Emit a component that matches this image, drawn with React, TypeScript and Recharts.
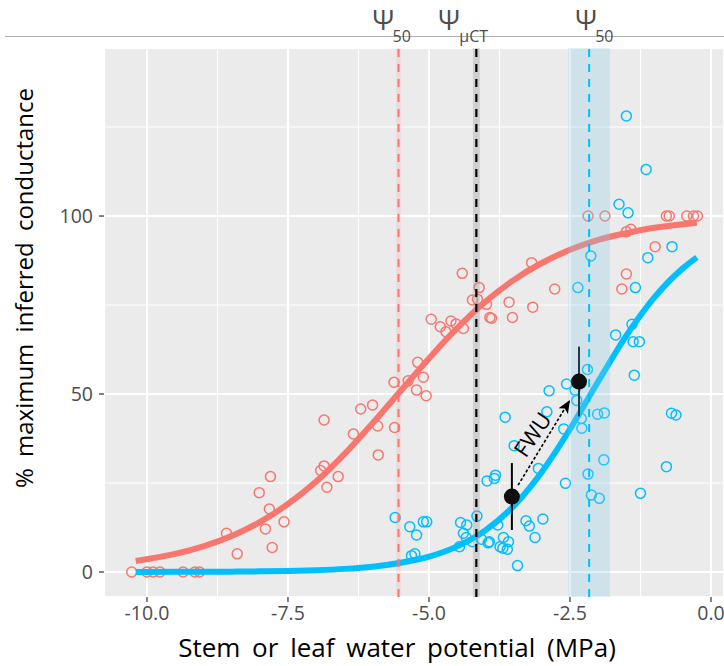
import React from 'react';
import {
  ComposedChart,
  Line,
  Scatter,
  XAxis,
  YAxis,
  CartesianGrid,
  ReferenceLine,
  ReferenceArea,
  ErrorBar,
} from 'recharts';

const RED = '#F8766D';
const BLUE = '#00BFFF';
const FONT = '"Open Sans", "Noto Sans", sans-serif';

// ---- data ----
const redPoints: number[][] = [
  [-10.27, 0], [-10.0, 0], [-9.89, 0], [-9.77, 0], [-9.36, 0], [-9.15, 0], [-9.07, 0],
  [-8.59, 10.9], [-8.4, 5.1], [-8.01, 22.3], [-7.81, 26.8], [-7.83, 17.7], [-7.9, 12.1], [-7.78, 6.9], [-7.57, 14.1],
  [-6.86, 42.7], [-6.92, 28.5], [-6.86, 29.8], [-6.81, 23.8], [-6.61, 26.8], [-6.34, 38.8], [-6.21, 45.8], [-6.0, 46.9],
  [-5.91, 41.0], [-5.9, 32.9], [-5.61, 40.6], [-5.62, 53.3],
  [-5.37, 53.7], [-5.2, 58.9], [-5.1, 54.7], [-5.22, 51.1], [-5.05, 49.5],
  [-4.96, 71.0], [-4.8, 68.9], [-4.7, 67.5], [-4.61, 70.5], [-4.52, 69.7], [-4.39, 68.4], [-4.41, 83.9], [-4.23, 76.4],
  [-4.11, 79.9], [-4.14, 76.6], [-3.98, 75.2], [-3.92, 71.5], [-3.89, 71.3], [-3.58, 75.8], [-3.52, 71.5],
  [-3.18, 86.9], [-2.77, 79.5], [-3.16, 74.4], [-2.18, 100], [-1.88, 100], [-1.5, 95.6], [-1.42, 96.3], [-0.99, 91.4],
  [-1.5, 83.7], [-1.58, 79.5], [-0.79, 100], [-0.74, 100], [-0.43, 100], [-0.31, 100], [-0.24, 100],
];

const bluePoints: number[][] = [
  [-5.6, 15.3], [-5.34, 12.7], [-5.22, 10.4], [-5.31, 4.6], [-5.25, 5.1], [-5.1, 14.1], [-5.04, 14.1],
  [-4.44, 13.9], [-4.33, 13.2], [-4.15, 15.7], [-4.39, 10.9], [-4.34, 9.7], [-4.23, 8.5], [-4.46, 7.1], [-4.07, 9.2],
  [-3.93, 8.5], [-3.95, 8.2], [-3.78, 13.2], [-3.74, 7.1], [-3.69, 6.7], [-3.68, 9.7], [-3.61, 6.4], [-3.59, 8.5],
  [-3.43, 1.8], [-3.28, 14.4], [-3.22, 12.9], [-3.12, 9.7], [-2.98, 14.9],
  [-3.97, 25.6], [-3.84, 26.3], [-3.82, 27.2], [-3.65, 43.5], [-3.49, 35.5], [-3.06, 29.1], [-2.91, 45.0], [-2.87, 50.9],
  [-2.58, 24.9], [-2.61, 40.2], [-2.56, 52.8], [-2.41, 51.1], [-2.38, 48.2], [-2.3, 43.1], [-2.29, 40.4], [-2.19, 56.9],
  [-2.18, 27.5], [-2.12, 21.6], [-1.98, 20.7], [-2.01, 44.3], [-1.89, 44.7], [-1.9, 31.5], [-1.69, 66.6], [-1.4, 69.6],
  [-1.38, 64.7], [-1.27, 64.7], [-1.36, 55.3], [-1.25, 22.1], [-0.79, 29.6], [-0.7, 44.6], [-0.62, 44.1],
  [-1.5, 128.1], [-1.15, 113.1], [-1.63, 103.3], [-1.47, 100.9], [-2.13, 88.8], [-2.36, 79.9], [-1.12, 88.3],
  [-0.69, 91.4], [-1.34, 79.9],
];

const curveX = [-10.2, -9.5, -9, -8.5, -8, -7.5, -7, -6.5, -6, -5.5, -5, -4.5, -4, -3.5, -3, -2.5, -2, -1.5, -1, -0.5, -0.25];
const redCurveY = [3.1, 5.1, 7.2, 10.1, 14.0, 19.1, 25.4, 33.1, 41.8, 50.9, 60.0, 68.5, 75.9, 82.0, 86.8, 90.5, 93.3, 95.2, 96.7, 97.7, 98.1];
const blueCurveY = [0.02, 0.04, 0.06, 0.1, 0.18, 0.3, 0.52, 0.88, 1.5, 2.6, 4.3, 7.2, 11.7, 18.5, 28.1, 40.1, 53.5, 66.4, 77.2, 85.3, 88.4];

const fwuX = [-3.53, -2.34];
const fwuY = [21.2, 53.5];
const fwuErr = [9.4, 9.8];
const arrowX = [-3.42, -2.5];
const arrowY = [24.4, 48.3];
const fwuText = { x: -3.18, y: 38.8, label: 'FWU' };

const psi50Red = -5.54;
const psiMicroCT = -4.16;
const psi50Blue = -2.16;
const redBand = [-5.58, -5.5];
const grayBand = [-4.22, -4.1];
const blueBand = [-2.53, -1.79];

const xTicks = [-10, -7.5, -5, -2.5, 0];
const yTicks = [0, 50, 100];
const xMinor = [-8.75, -6.25, -3.75, -1.25];
const yMinor = [25, 75, 125];

const xTitle = 'Stem or leaf water potential (MPa)';
const yTitle = '% maximum inferred conductance';

// ---- derived tables ----
const toXY = (arr: number[][]) => arr.map(([x, y]) => ({ x, y }));
const redData = toXY(redPoints);
const blueData = toXY(bluePoints);
const redCurve = curveX.map((x, i) => ({ x, y: redCurveY[i] }));
const blueCurve = curveX.map((x, i) => ({ x, y: blueCurveY[i] }));
const fwuData = fwuX.map((x, i) => ({ x, y: fwuY[i], err: fwuErr[i] }));
const arrowData = arrowX.map((x, i) => ({ x, y: arrowY[i] }));
const arrowHead = [arrowData[arrowData.length - 1]];
const textData = [{ x: fwuText.x, y: fwuText.y }];

const ring = (color: string) => (p: any) =>
  p.cx == null ? <g /> : <circle cx={p.cx} cy={p.cy} r={5} fill="none" stroke={color} strokeWidth={1.5} />;

const psiLabel = (dx: number, sub: string, subDx: number) => (props: any) => {
  const vb = props && props.viewBox ? props.viewBox : { x: 0 };
  const x0 = vb.x + dx;
  return (
    <g>
      <text x={x0} y={30} fontSize={27} fill="#4d4d4d" fontFamily={FONT}>
        Ψ
      </text>
      <text x={x0 + subDx} y={42} fontSize={16} fill="#4d4d4d" fontFamily={FONT}>
        {sub}
      </text>
    </g>
  );
};

export default function App() {
  return (
    <div style={{ position: 'absolute', left: 0, top: 0, width: 724, height: 666, background: '#fff' }}>
      <div style={{ position: 'absolute', left: 5, top: 36, width: 719, height: 1, background: '#b0b0b0' }} />
      <div style={{ position: 'absolute', left: 0, top: 0 }}>
        <ComposedChart width={724} height={666} margin={{ top: 48, right: 0, bottom: 0, left: 0 }}>
          <CartesianGrid fill="#EBEBEB" fillOpacity={1} stroke="#ffffff" strokeWidth={2} />
          <XAxis
            type="number"
            dataKey="x"
            domain={[-10.762, 0.231]}
            allowDataOverflow
            ticks={xTicks}
            tickFormatter={(v: number) => v.toFixed(1)}
            height={69}
            axisLine={false}
            tickLine={{ stroke: '#333333', strokeWidth: 1.2 }}
            tickSize={5}
            tickMargin={4}
            tick={{ fill: '#4d4d4d', fontSize: 19.5, fontFamily: FONT }}
            label={{
              content: () => (
                <text x={397} y={657} textAnchor="middle" fontSize={26} fill="#000" fontFamily={FONT} style={{ wordSpacing: 5 }}>
                  {xTitle}
                </text>
              ),
            }}
          />
          <YAxis
            type="number"
            dataKey="y"
            domain={[-7.02, 147.2]}
            allowDataOverflow
            ticks={yTicks}
            width={104}
            axisLine={false}
            tickLine={{ stroke: '#333333', strokeWidth: 1.2 }}
            tickSize={5}
            tickMargin={6}
            tick={{ fill: '#4d4d4d', fontSize: 19.5, fontFamily: FONT }}
            label={{
              content: () => (
                <text
                  x={0}
                  y={0}
                  transform="translate(33,288) rotate(-90)"
                  textAnchor="middle"
                  fontSize={24}
                  fill="#000"
                  fontFamily={FONT}
                  style={{ wordSpacing: 5 }}
                >
                  {yTitle}
                </text>
              ),
            }}
          />
          {xMinor.map((v) => (
            <ReferenceLine key={'xm' + v} x={v} stroke="#ffffff" strokeWidth={1} zIndex={-50} />
          ))}
          {yMinor.map((v) => (
            <ReferenceLine key={'ym' + v} y={v} stroke="#ffffff" strokeWidth={1} zIndex={-50} />
          ))}

          <Scatter data={redData} shape={ring(RED)} isAnimationActive={false} zIndex={300} />
          <Scatter data={blueData} shape={ring(BLUE)} isAnimationActive={false} zIndex={300} />

          <Line data={redCurve} dataKey="y" type="monotone" stroke={RED} strokeWidth={6} dot={false} activeDot={false} isAnimationActive={false} zIndex={400} />
          <Line data={blueCurve} dataKey="y" type="monotone" stroke={BLUE} strokeWidth={6} dot={false} activeDot={false} isAnimationActive={false} zIndex={400} />

          <ReferenceArea x1={redBand[0]} x2={redBand[1]} fill={RED} fillOpacity={0.14} stroke="none" zIndex={450} />
          <ReferenceArea x1={grayBand[0]} x2={grayBand[1]} fill="#9a9a9a" fillOpacity={0.35} stroke="none" zIndex={450} />
          <ReferenceArea x1={blueBand[0]} x2={blueBand[1]} fill="#87CEEB" fillOpacity={0.28} stroke="none" zIndex={450} />

          <ReferenceLine x={psi50Red} stroke={RED} strokeWidth={2} strokeDasharray="8 7" zIndex={460} label={psiLabel(-26, '50', 20)} />
          <ReferenceLine x={psiMicroCT} stroke="#000" strokeWidth={2.2} strokeDasharray="8 7" zIndex={460} label={psiLabel(-38, 'μCT', 21)} />
          <ReferenceLine x={psi50Blue} stroke={BLUE} strokeWidth={2} strokeDasharray="8 7" zIndex={460} label={psiLabel(-14, '50', 20)} />

          <Line data={arrowData} dataKey="y" type="linear" stroke="#000" strokeWidth={1.6} strokeDasharray="3 2" dot={false} activeDot={false} isAnimationActive={false} zIndex={500} />
          <Scatter
            data={arrowHead}
            isAnimationActive={false}
            zIndex={500}
            shape={(p: any) =>
              p.cx == null ? <g /> : (
                <polygon points="0,0 -13,-5.5 -10,0 -13,5.5" transform={`translate(${p.cx},${p.cy}) rotate(-58.7)`} fill="#000" />
              )
            }
          />
          <Scatter
            data={textData}
            isAnimationActive={false}
            zIndex={500}
            shape={(p: any) =>
              p.cx == null ? <g /> : (
                <text
                  x={0}
                  y={0}
                  transform={`translate(${p.cx},${p.cy}) rotate(-56)`}
                  textAnchor="middle"
                  dominantBaseline="central"
                  fontSize={22}
                  fill="#000"
                  fontFamily={FONT}
                >
                  {fwuText.label}
                </text>
              )
            }
          />
          <Scatter
            data={fwuData}
            isAnimationActive={false}
            zIndex={700}
            shape={(p: any) => (p.cx == null ? <g /> : <circle cx={p.cx} cy={p.cy} r={8} fill="#0d0d0d" />)}
          >
            <ErrorBar dataKey="err" direction="y" width={0} stroke="#000" strokeWidth={2} />
          </Scatter>
        </ComposedChart>
      </div>
    </div>
  );
}
